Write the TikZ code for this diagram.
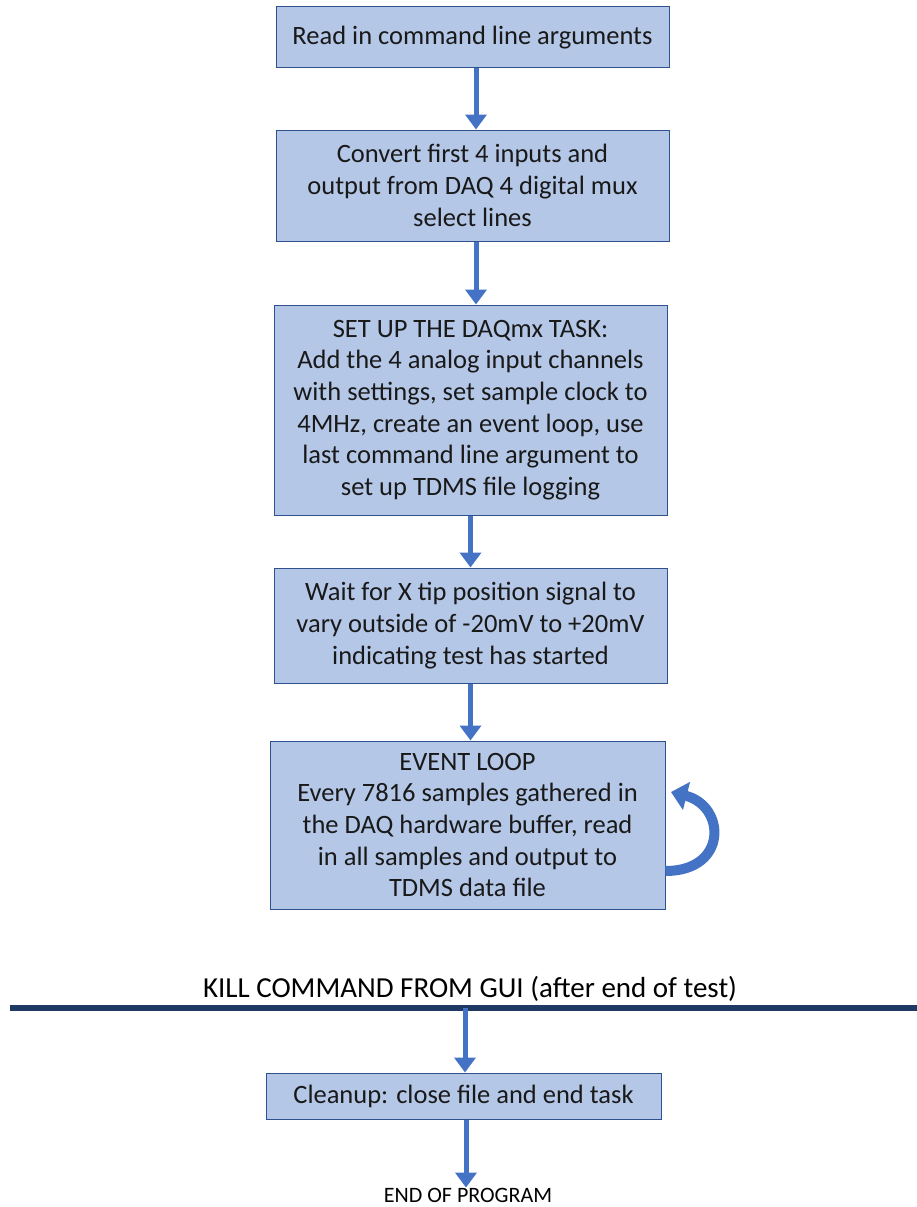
\documentclass[tikz,border=0pt]{standalone}
\usepackage{fontspec}
\setmainfont{Carlito}
\usetikzlibrary{arrows.meta}
\definecolor{boxfill}{HTML}{B4C7E7}
\definecolor{boxline}{HTML}{2F528F}
\definecolor{arrowblue}{HTML}{4472C4}
\definecolor{navy}{HTML}{1F3864}
\tikzset{
  stepbox/.style={draw=boxline, line width=1pt, fill=boxfill, inner sep=0pt, align=center,
     font=\fontsize{26.5}{31.7}\selectfont, text=black!90},
  flow/.style={draw=arrowblue, line width=5pt, -{Triangle[length=15pt,width=21pt]}},
}
\begin{document}
\begin{tikzpicture}[x=1pt,y=-1pt]
\useasboundingbox (0,0) rectangle (917,1207);
\node[stepbox, minimum width=393, minimum height=61] (b1) at (472.5,37.5) {Read in command line arguments};
\node[stepbox, minimum width=393, minimum height=111] (b2) at (472.5,185.5) {Convert first 4 inputs and\\output from DAQ 4 digital mux\\select lines};
\node[stepbox, minimum width=393, minimum height=210] (b3) at (470.5,410) {SET UP THE DAQmx TASK:\\Add the 4 analog input channels\\with settings, set sample clock to\\4MHz, create an event loop, use\\last command line argument to\\set up TDMS file logging};
\node[stepbox, minimum width=393, minimum height=115] (b4) at (470.5,625.5) {Wait for X tip position signal to\\vary outside of -20mV to +20mV\\indicating test has started};
\node[stepbox, minimum width=395, minimum height=168] (b5) at (467.5,825) {EVENT LOOP\\Every 7816 samples gathered in\\the DAQ hardware buffer, read\\in all samples and output to\\TDMS data file};
\node[stepbox, minimum width=395, minimum height=46] (b6) at (463.5,1096) {Cleanup: close file and end task};
\node[font=\fontsize{29}{34}\selectfont, inner sep=0pt] (kill) at (470,989) {KILL COMMAND FROM GUI (after end of test)};
\node[font=\fontsize{22}{26}\selectfont, inner sep=0pt] (end) at (468,1195) {END OF PROGRAM};
\coordinate (lineL) at (10,1008);
\coordinate (lineR) at (917,1008);
\coordinate (lineM) at (465,1008);
\draw[navy, line width=6pt] (lineL) -- (lineR);
\draw[flow] ([xshift=3.5pt]b1.south) -- ([xshift=3.5pt]b1.south |- b2.north);
\draw[flow] ([xshift=3.5pt]b2.south) -- ([xshift=3.5pt]b2.south |- b3.north);
\draw[flow] (b3.south) -- (b3.south |- b4.north);
\draw[flow] (b4.south) -- (b4.south |- b5.north);
\draw[flow] (lineM) -- (lineM |- b6.north);
\draw[flow] ([xshift=2.5pt]b6.south) -- ([xshift=2.5pt]b6.south |- end.north);
\coordinate (loopS) at ([yshift=-46pt]b5.east);
\coordinate (loopE) at (671,792);
\draw[draw=arrowblue, line width=10pt, -{Triangle[length=16pt,width=28pt]}]
  (loopS) .. controls (728,871) and (726,806) .. (loopE);
\end{tikzpicture}
\end{document}
